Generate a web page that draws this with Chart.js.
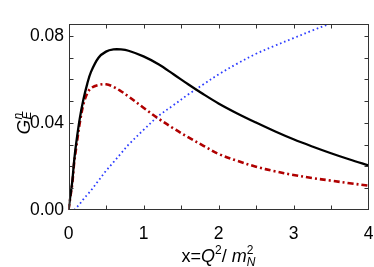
<!DOCTYPE html>
<html>
<head>
<meta charset="utf-8">
<script src="https://cdn.jsdelivr.net/npm/chart.js@4.4.1/dist/chart.umd.min.js"></script>
<style>
  html, body { margin: 0; padding: 0; background: #fff; }
  #wrap { width: 374px; height: 267px; }
</style>
</head>
<body>
<div id="wrap"><canvas id="gen"></canvas></div>
<script>
let xs = [0, 0.025, 0.05, 0.075, 0.1, 0.15, 0.2, 0.25, 0.3, 0.4, 0.5, 0.6, 0.7, 0.8, 1.0, 1.2, 1.4, 1.6, 1.8, 2.0, 2.25, 2.5, 2.75, 3.0, 3.25, 3.5, 3.75, 4.0];
let solid = [0, 0.0065, 0.013, 0.0225, 0.030, 0.042, 0.051, 0.058, 0.0635, 0.0700, 0.0728, 0.0738, 0.0738, 0.0732, 0.0706, 0.0670, 0.0624, 0.0577, 0.0532, 0.0490, 0.0444, 0.0402, 0.0362, 0.0325, 0.0292, 0.0261, 0.0232, 0.0205];
let dashDot = [0, 0.006, 0.012, 0.0215, 0.028, 0.040, 0.0488, 0.0536, 0.0560, 0.0575, 0.0578, 0.0566, 0.0546, 0.0522, 0.0470, 0.0420, 0.0375, 0.0334, 0.0295, 0.0258, 0.0226, 0.0199, 0.0178, 0.0161, 0.0147, 0.0135, 0.0123, 0.0112];
let dotted = [null, null, null, 0, 0.0008, 0.0028, 0.005, 0.007, 0.009, 0.0135, 0.018, 0.022, 0.026, 0.030, 0.0368, 0.0432, 0.0482, 0.0532, 0.0578, 0.0623, 0.0673, 0.0718, 0.0755, 0.0790, 0.0825, 0.0858, 0.0888, 0.0917];
let xLabels = ['0', '1', '2', '3', '4'];
let yLabels = ['0.00', '0.04', '0.08'];

function pts(ys) {
  return xs.map((x, i) => ({x: x, y: ys[i]}));
}

// rich text runs: {t, it, size, dy} or {stack: [run, run]}
function drawRuns(ctx, runs, x0, y0, center) {
  let font = r => (r.it ? 'italic ' : '') + r.size + 'px "Liberation Sans", Arial, sans-serif';
  let w = r => { ctx.font = font(r); return ctx.measureText(r.t).width; };
  let total = 0;
  runs.forEach(r => { total += r.stack ? Math.max(...r.stack.map(w)) : w(r); });
  let x = center ? x0 - total / 2 : x0;
  ctx.textBaseline = 'alphabetic';
  ctx.textAlign = 'left';
  runs.forEach(r => {
    let parts = r.stack || [r];
    let adv = 0;
    parts.forEach(p => {
      ctx.font = font(p);
      ctx.fillText(p.t, x + (p.dx || 0), y0 + (p.dy || 0));
      adv = Math.max(adv, w(p));
    });
    x += adv;
  });
}

let frame = {
  id: 'frame',
  afterDraw(chart) {
    let ctx = chart.ctx, a = chart.chartArea;
    let sx = chart.scales.x, sy = chart.scales.y;
    ctx.save();
    ctx.strokeStyle = '#333';
    ctx.lineWidth = 1;
    let L = Math.round(a.left) + 0.5, R = Math.round(a.right) - 0.5;
    let T = Math.round(a.top) + 0.5, B = Math.round(a.bottom) - 0.5;
    ctx.strokeRect(L, T, R - L, B - T);
    ctx.beginPath();
    sx.ticks.forEach(t => {
      let px = Math.round(sx.getPixelForValue(t.value)) + 0.5;
      if (px <= L + 1 || px >= R - 1) return;
      ctx.moveTo(px, B); ctx.lineTo(px, B - 4);
      ctx.moveTo(px, T); ctx.lineTo(px, T + 4);
    });
    sy.ticks.forEach(t => {
      let py = Math.round(sy.getPixelForValue(t.value)) + 0.5;
      if (py <= T + 1 || py >= B - 1) return;
      ctx.moveTo(L, py); ctx.lineTo(L + 4, py);
      ctx.moveTo(R, py); ctx.lineTo(R - 4, py);
    });
    ctx.stroke();

    ctx.fillStyle = '#000';
    drawRuns(ctx, [
      {t: 'x=', size: 18},
      {t: 'Q', it: true, size: 18},
      {t: '2', size: 12, dy: -8},
      {t: '/', size: 18},
      {t: ' m', it: true, size: 18},
      {stack: [{t: '2', size: 12, dy: -8}, {t: 'N', it: true, size: 12, dy: 4}]}
    ], (a.left + a.right) / 2, 262, true);

    ctx.translate(30, 123);
    ctx.rotate(-Math.PI / 2);
    drawRuns(ctx, [
      {t: 'G', it: true, size: 19},
      {stack: [{t: 'n', it: true, size: 12, dy: -8}, {t: 'E', it: true, size: 12, dy: 1}]}
    ], 0, 0, true);
    ctx.restore();
  }
};

let tickFont = {family: '"Liberation Sans", Arial, sans-serif', size: 17.5};

new Chart(document.getElementById('gen').getContext('2d'), {
  type: 'line',
  data: {
    datasets: [
      {label: 'solid', data: pts(solid), borderColor: '#000', borderWidth: 2.3,
       pointRadius: 0, tension: 0.35},
      {label: 'dash-dot', data: pts(dashDot), borderColor: '#b00000', borderWidth: 2.6,
       borderDash: [6, 3, 2, 3], pointRadius: 0, tension: 0.35},
      {label: 'dotted', data: pts(dotted), borderColor: '#2b3bff', borderWidth: 1.8,
       borderDash: [1.6, 2.8], pointRadius: 0, tension: 0.35}
    ]
  },
  options: {
    responsive: true,
    maintainAspectRatio: false,
    animation: false,
    layout: {padding: {top: 24, right: 5.5, left: 0, bottom: 0}},
    plugins: {legend: {display: false}, tooltip: {enabled: false}},
    scales: {
      x: {
        type: 'linear', min: 0, max: 4,
        grid: {display: false, drawTicks: false}, border: {display: false},
        ticks: {
          stepSize: 0.5, autoSkip: false, maxRotation: 0, padding: 14,
          color: '#000', font: tickFont,
          callback: v => Number.isInteger(v) ? xLabels[v] : ''
        },
        afterFit: s => { s.height = 57; s.paddingLeft = 0; s.paddingRight = 0; }
      },
      y: {
        min: 0, max: 0.0855,
        grid: {display: false, drawTicks: false}, border: {display: false},
        ticks: {
          stepSize: 0.01, includeBounds: false, autoSkip: false, padding: 4.5,
          color: '#000', font: tickFont,
          callback: v => {
            let k = Math.round(v * 100);
            return k % 4 === 0 ? yLabels[k / 4] : '';
          }
        },
        afterFit: s => { s.width = 68.5; s.paddingTop = 0; s.paddingBottom = 0; }
      }
    }
  },
  plugins: [frame]
});
</script>
</body>
</html>
